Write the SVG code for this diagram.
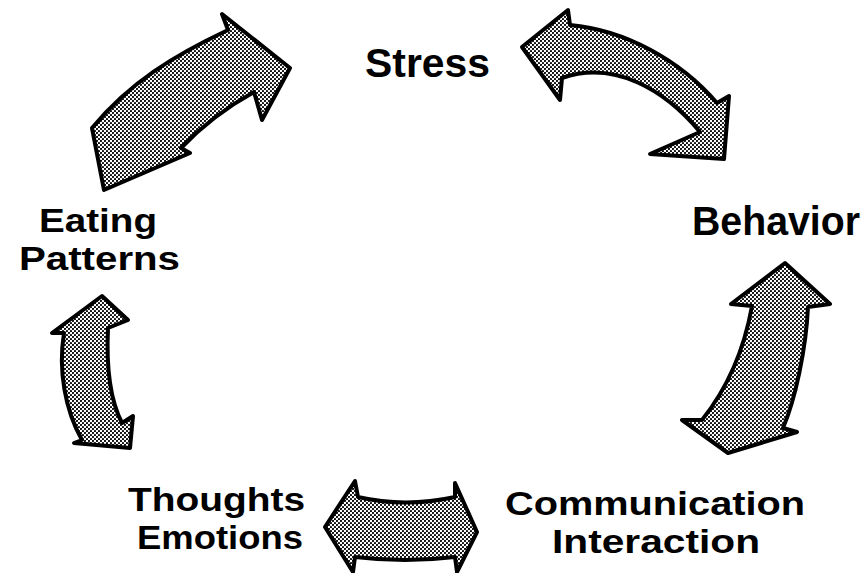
<svg xmlns="http://www.w3.org/2000/svg" width="867" height="573" viewBox="0 0 867 573">
  <defs>
    <pattern id="dots" width="4" height="4" patternUnits="userSpaceOnUse">
      <rect width="4" height="4" fill="#fff"/>
      <circle cx="1" cy="1" r="1.1" fill="#000"/>
      <circle cx="3" cy="3" r="1.1" fill="#000"/>
    </pattern>
  </defs>
  <style>
    .lbl { font-family: "Liberation Sans", Arial, sans-serif; font-size: 34px; font-weight: bold; fill: #000; }
    .big { font-size: 40px; }
    .arr { fill: url(#dots); stroke: #000; stroke-width: 4; stroke-linejoin: round; }
  </style>
  <rect width="867" height="573" fill="#fff"/>

  <g id="connectors">
    <path class="arr" d="M 104 190 L 92 128 C 130 82, 175 55, 228 30 L 222 14 L 290 68 L 262 120 L 254 92 C 225 108, 200 128, 181 148 L 190 153 Z"/>
    <path class="arr" d="M 522 47 L 568 10 L 570 25 C 625 30, 680 60, 717 103 L 729 96 L 724 159 L 650 154 L 700 132 C 665 90, 615 60, 562 78 L 560 100 Z"/>
    <path class="arr" d="M 785 263 L 830 304 L 808 307 C 806 350, 795 400, 783 428 L 797 432 L 728 453 L 682 420 L 702 420 C 730 385, 745 345, 752 306 L 731 304 Z"/>
    <path class="arr" d="M 325 527 L 355 481 L 358 497 Q 405 508, 455 497 L 455 483 L 477 532 L 457 572 L 455 557 Q 405 563, 355 557 L 353 572 Z"/>
    <path class="arr" d="M 102 296 L 128 320 L 108 328 C 106 370, 110 400, 122 423 L 133 416 L 130 448 L 74 443 L 82 440 C 65 410, 58 370, 64 333 L 52 333 Z"/>
  </g>

  <g id="stress">
    <text class="lbl big" x="365" y="77" textLength="125" lengthAdjust="spacingAndGlyphs">Stress</text>
  </g>
  <g id="behavior">
    <text class="lbl big" x="692" y="235" textLength="168" lengthAdjust="spacingAndGlyphs">Behavior</text>
  </g>
  <g id="communication-interaction">
    <text class="lbl" x="505" y="515" textLength="300" lengthAdjust="spacingAndGlyphs">Communication</text>
    <text class="lbl" x="552" y="553" textLength="208" lengthAdjust="spacingAndGlyphs">Interaction</text>
  </g>
  <g id="thoughts-emotions">
    <text class="lbl" x="128" y="511" textLength="177" lengthAdjust="spacingAndGlyphs">Thoughts</text>
    <text class="lbl" x="137" y="549" textLength="166" lengthAdjust="spacingAndGlyphs">Emotions</text>
  </g>
  <g id="eating-patterns">
    <text class="lbl" x="39" y="232" textLength="118" lengthAdjust="spacingAndGlyphs">Eating</text>
    <text class="lbl" x="19" y="270" textLength="161" lengthAdjust="spacingAndGlyphs">Patterns</text>
  </g>
</svg>
